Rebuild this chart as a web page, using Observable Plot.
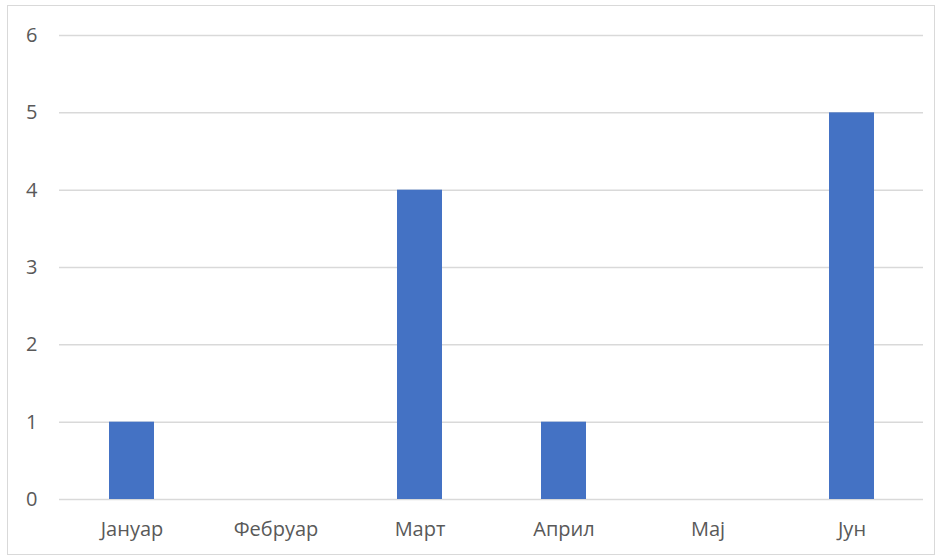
<!DOCTYPE html>
<html><head><meta charset="utf-8">
<script src="https://cdn.jsdelivr.net/npm/d3@7"></script>
<script src="https://cdn.jsdelivr.net/npm/@observablehq/plot@0.6"></script>
<style>
body{margin:0;background:#fff;}
#wrap{position:relative;width:940px;height:558px;}
#border{position:absolute;left:7px;top:5px;width:926px;height:548px;border:1.5px solid #d9d9d9;pointer-events:none;}
</style>
</head><body>
<div id="wrap"><div id="border"></div></div>
<script>
const months = ["Јануар","Фебруар","Март","Април","Мај","Јун"];
const counts = [1,0,4,1,0,5];
const yTicks = [0,1,2,3,4,5,6];
const data = months.map((m,i)=>({month:m,value:counts[i]}));
const chart = Plot.plot({
  width:940, height:558,
  marginLeft:59, marginRight:17, marginTop:35, marginBottom:59,
  style:{fontFamily:"'Open Sans', sans-serif", fontSize:"20px", color:"#595959", background:"transparent"},
  x:{domain:months, paddingInner:0.69, paddingOuter:0.345, label:null},
  y:{domain:[0,6], ticks:yTicks, label:null},
  marks:[
    Plot.gridY(yTicks,{stroke:"#d9d9d9", strokeOpacity:1, strokeWidth:1.5}),
    Plot.barY(data,{x:"month", y:"value", fill:"#4472C4"}),
    Plot.axisY(yTicks,{tickSize:0, tickPadding:22, fontSize:20, fill:"#595959", tickFormat:"d"}),
    Plot.axisX({tickSize:0, tickPadding:22, fontSize:20, fill:"#595959"})
  ]
});
document.getElementById("wrap").appendChild(chart);
chart.style.position="absolute";chart.style.left="0";chart.style.top="0";
</script>
</body></html>
